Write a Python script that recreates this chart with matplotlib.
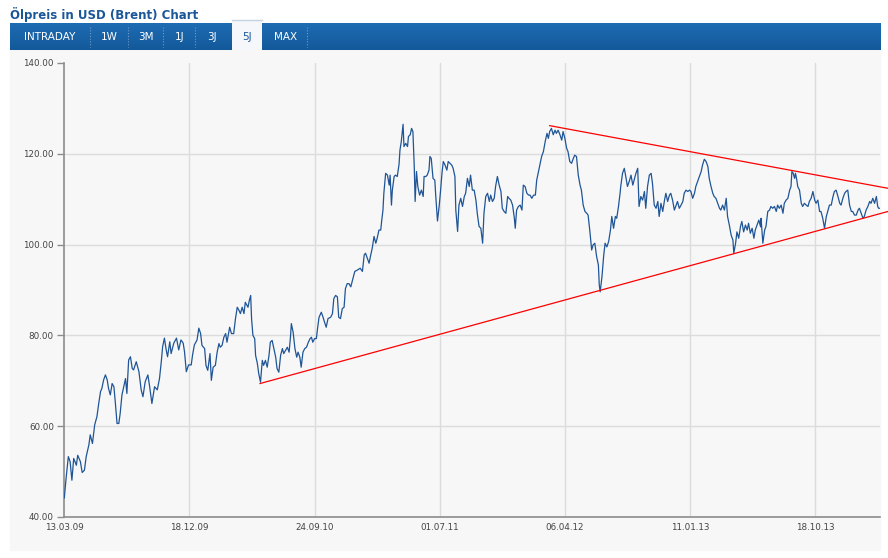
import pandas as pd
import numpy as np
import matplotlib
matplotlib.use('Agg')
import matplotlib.pyplot as plt
from matplotlib.patches import Rectangle
from matplotlib.colors import LinearSegmentedColormap

# Brent price: day offset from 13.03.09 and USD value
start = pd.Timestamp('2009-03-13')
days = [
    0, 4, 9, 13, 17, 21, 27, 30, 36, 40, 45, 49, 55, 58, 63, 68, 73, 77, 81, 84,
    88, 92, 96, 99, 103, 107, 111, 114, 118, 122, 125, 129, 133, 137, 140, 144, 148, 152, 155, 161,
    167, 172, 176, 181, 187, 191, 196, 202, 208, 213, 217, 220, 224, 228, 231, 236, 239, 245, 251, 256,
    261, 266, 269, 273, 278, 284, 287, 291, 297, 301,
    305, 308, 314, 317, 321, 326, 329, 333, 338, 342, 346, 349, 353, 357, 361, 364, 370, 374, 379, 383,
    387, 391, 394, 398, 402, 405, 411, 414, 417, 419, 422, 426, 428, 432, 435, 439, 443, 446, 450, 454,
    458, 461, 465, 469, 473, 476, 480, 484, 488, 491, 495, 499, 503, 506, 508, 512, 516, 520, 523, 527,
    530, 534, 538, 542, 546, 550, 553, 556, 560, 564, 567, 570, 575, 579, 582, 586, 590, 596, 600, 603,
    607, 611, 614, 618, 622, 626, 629, 633, 637, 641,
    650, 656, 662, 667, 671, 674, 678, 682, 685, 689, 693, 697, 700, 704, 708, 710, 713, 715, 719, 723,
    727, 729, 732, 734, 738, 741, 745, 749, 751, 754, 758, 760, 764, 768, 770, 774, 777, 780, 783, 785,
    788, 791, 795, 799, 803, 805, 809, 812, 816, 818, 821, 825, 829, 831, 835, 839, 842, 845, 848, 852,
    856, 859, 863, 867, 870, 874, 876, 880, 883, 887, 891, 895, 898, 902, 906, 909, 913, 917, 921, 924,
    928,
    932, 936, 939, 943, 947, 951, 954, 958, 962, 965, 969, 973, 977, 980, 984, 988, 992, 995, 999, 1003,
    1007, 1009, 1012, 1016, 1020, 1024, 1027, 1031, 1035, 1039, 1042, 1046, 1050, 1054, 1057, 1061, 1065, 1068, 1072, 1076,
    1080, 1083, 1086, 1090, 1094, 1098, 1101, 1105, 1109, 1113, 1116, 1120, 1124, 1127, 1131, 1135, 1139, 1142, 1146, 1150,
    1154, 1157, 1161, 1165, 1169, 1172, 1176, 1180, 1183, 1187, 1191, 1195, 1197, 1199, 1203, 1207, 1210, 1214, 1218, 1222,
    1225, 1229, 1233, 1236, 1240, 1244,
    1245, 1249, 1253, 1257, 1260, 1264, 1268, 1272, 1275, 1279, 1283, 1286, 1290, 1294, 1298, 1301, 1305, 1309, 1313, 1316,
    1320, 1324, 1328, 1331, 1335, 1339, 1343, 1346, 1350, 1354, 1357, 1361, 1365, 1369, 1372, 1376, 1380, 1384, 1387, 1391,
    1395, 1399, 1402, 1406, 1410, 1413, 1417, 1421, 1425, 1428, 1432, 1436, 1440, 1443, 1447, 1451, 1454, 1458, 1462, 1466,
    1469, 1473, 1477, 1481, 1484, 1488, 1492, 1496, 1498, 1502, 1505, 1509, 1513, 1516, 1520, 1524, 1528, 1531, 1535, 1539,
    1543, 1546, 1550, 1554, 1558,
    1559, 1563, 1567, 1570, 1574, 1578, 1581, 1585, 1589, 1593, 1596, 1600, 1604, 1608, 1611, 1615, 1619, 1623, 1626, 1628,
    1631, 1634, 1636, 1639, 1641, 1645, 1649, 1652, 1656, 1660, 1664, 1667, 1671, 1675, 1679, 1682, 1686, 1690, 1693, 1697,
    1701, 1705, 1708, 1712, 1716, 1720, 1723, 1727, 1731, 1735, 1738, 1742, 1746, 1749, 1753, 1757, 1761, 1764, 1768, 1772,
    1776, 1779, 1783, 1787, 1790, 1794, 1798, 1802, 1805, 1809, 1813, 1817, 1820, 1822, 1824,
]
price = [
    44.2, 48.5, 53.3, 52.2, 48.1, 52.9, 51.4, 53.6, 52.2, 49.8, 50.3, 53.3, 55.9, 58.1, 56.2, 60.3, 62.1, 65.0, 67.6, 68.3,
    70.2, 71.3, 70.2, 68.3, 66.9, 69.4, 68.7, 65.4, 60.6, 60.6, 62.8, 66.9, 68.7, 70.5, 67.2, 74.6, 75.3, 72.7, 72.4, 74.2,
    72.0, 68.0, 66.5, 69.8, 71.3, 68.7, 65.0, 68.7, 68.0, 70.5, 74.2, 77.5, 79.4, 76.8, 75.3, 78.6, 76.0, 78.3, 79.4, 76.8,
    79.0, 78.3, 76.4, 72.0, 73.5, 73.5, 75.7, 77.9, 79.0, 81.6,
    80.4, 77.8, 77.1, 73.4, 72.3, 76.0, 70.1, 73.0, 73.4, 76.3, 78.2, 77.4, 77.8, 79.6, 80.4, 78.5, 81.8, 80.4, 80.4, 83.7,
    86.2, 85.5, 84.8, 86.2, 84.8, 87.3, 86.2, 87.7, 88.8, 83.7, 80.0, 79.3, 75.6, 73.8, 71.6, 69.7, 74.5, 73.4, 74.5, 73.0,
    75.6, 78.5, 78.9, 77.1, 75.2, 72.7, 71.9, 75.6, 77.1, 76.0, 76.7, 77.4, 76.3, 79.6, 82.6, 80.7, 77.1, 75.2, 76.3, 75.2,
    73.0, 76.3, 77.1, 77.4, 78.5, 79.3, 79.6, 78.5, 79.3, 79.3, 81.8, 84.0, 85.1, 84.0, 83.0, 81.8, 83.7, 84.0, 84.8, 88.1,
    88.8, 88.5, 84.0, 83.7, 85.9, 86.2, 90.3, 91.4, 91.4, 90.7,
    94.1, 94.4, 94.8, 94.1, 97.7, 98.1, 97.0, 95.9, 97.4, 99.2, 101.8, 100.3, 101.4, 103.2, 103.2, 105.1, 107.6, 111.3, 115.7, 115.3,
    113.1, 115.3, 108.7, 112.0, 115.0, 115.3, 115.0, 117.7, 120.8, 122.7, 126.5, 121.6, 122.3, 121.6, 123.8, 124.2, 125.6, 124.9, 117.2, 109.5,
    116.1, 112.8, 110.9, 112.0, 110.6, 115.0, 115.0, 115.3, 116.4, 119.4, 119.0, 114.6, 114.2, 110.9, 105.2, 108.7, 112.0, 115.7, 118.3, 117.5,
    116.4, 118.3, 117.9, 117.5, 116.8, 115.0, 107.6, 102.9, 108.7, 110.2, 108.4, 110.6, 111.3, 114.6, 112.8, 115.3, 112.0, 112.0, 109.8, 106.9,
    104.0,
    103.6, 100.3, 106.9, 110.6, 111.3, 109.5, 110.9, 109.5, 110.2, 112.8, 115.0, 113.1, 111.7, 108.0, 107.3, 106.9, 110.6, 110.2, 109.8, 108.7,
    105.8, 103.6, 107.6, 108.4, 108.7, 107.6, 113.1, 112.8, 111.3, 110.9, 110.9, 110.2, 110.9, 110.9, 114.2, 116.1, 117.9, 119.4, 120.5, 122.7,
    124.5, 123.4, 124.9, 125.6, 124.2, 125.2, 124.5, 125.2, 124.2, 123.0, 124.9, 123.4, 121.2, 120.5, 118.3, 117.9, 119.0, 119.7, 119.4, 115.3,
    113.1, 112.0, 108.7, 107.3, 106.9, 106.5, 102.9, 98.8, 99.9, 100.3, 97.4, 95.5, 91.1, 89.6, 92.9, 97.7, 100.3, 99.5, 100.7, 103.2,
    106.2, 103.6, 106.2, 105.8, 108.4, 111.7,
    112.8, 115.7, 116.8, 114.6, 112.8, 113.9, 115.3, 113.1, 114.2, 115.7, 116.8, 108.4, 110.6, 109.8, 111.7, 108.0, 112.8, 115.3, 115.7, 113.5,
    108.7, 108.0, 109.5, 106.2, 109.1, 107.3, 109.8, 111.3, 109.5, 110.9, 111.3, 109.8, 107.6, 108.7, 109.5, 108.0, 108.7, 109.5, 111.3, 112.0,
    111.7, 112.0, 111.7, 110.2, 111.3, 112.8, 113.9, 115.0, 116.1, 117.5, 118.8, 118.3, 117.2, 114.6, 112.8, 111.3, 110.6, 110.2, 109.1, 108.0,
    107.6, 108.7, 107.6, 110.2, 106.2, 104.3, 102.1, 101.0, 98.1, 100.3, 102.8, 101.4, 104.0, 105.1, 102.8, 104.3, 103.2, 104.7, 102.5, 103.6,
    101.4, 103.2, 104.3, 105.4, 103.9,
    105.8, 100.3, 103.2, 104.0, 107.3, 107.6, 108.4, 108.0, 108.4, 107.3, 108.7, 108.0, 108.7, 106.9, 109.1, 109.8, 110.2, 112.0, 112.8, 116.1,
    115.7, 114.6, 115.7, 114.2, 112.8, 112.0, 109.1, 108.4, 109.1, 108.7, 108.4, 109.5, 110.2, 111.7, 109.8, 109.1, 109.8, 107.3, 107.3, 105.8,
    103.6, 106.2, 107.3, 108.7, 108.7, 110.6, 111.7, 112.0, 110.6, 109.1, 108.7, 110.2, 111.3, 111.7, 112.0, 108.7, 107.3, 107.3, 106.5, 106.5,
    107.6, 108.0, 106.9, 105.8, 106.2, 107.6, 108.4, 109.5, 109.1, 110.2, 109.1, 110.6, 108.4, 108.0, 108.0,
]

tick_dates = ['2009-03-13', '2009-12-18', '2010-09-24', '2011-07-01',
              '2012-04-06', '2013-01-11', '2013-10-18']
tick_labels = ['13.03.09', '18.12.09', '24.09.10', '01.07.11',
               '06.04.12', '11.01.13', '18.10.13']
y_ticks = [40, 60, 80, 100, 120, 140]

# trend lines (support / resistance)
support_dates = ['2010-05-25', '2014-03-30']
support_vals = [69.4, 107.3]
resist_dates = ['2012-03-03', '2014-03-30']
resist_vals = [126.2, 112.4]

tabs = ['INTRADAY', '1W', '3M', '1J', '3J', '5J', 'MAX']
tab_centers = [40, 99, 136, 170, 202, 237, 276]
tab_seps = [80, 118, 153, 185, 297]
active_tab = '5J'

W, H = 888, 558
fig = plt.figure(figsize=(W / 100, H / 100), dpi=100)
fig.patch.set_facecolor('white')


def fx(px):
    return px / W


def fy(py):
    return 1 - py / H


# grey chart panel (behind everything)
fig.patches.append(Rectangle((fx(10), fy(550)), 870 / W, 500 / H,
                             transform=fig.transFigure, color='#f7f7f7', zorder=-5))

# title
fig.text(fx(10), fy(14), 'Ölpreis in USD (Brent) Chart', fontsize=8.5,
         fontweight='bold', color='#1a5799', va='center', ha='left')

# tab bar
tab_ax = fig.add_axes([fx(10), fy(50), 870 / W, 27 / H])
grad = np.linspace(0, 1, 50).reshape(-1, 1)
cmap = LinearSegmentedColormap.from_list('bar', ['#1e6cb3', '#13599a'])
tab_ax.imshow(grad, extent=[0, 870, 27, 0], aspect='auto', cmap=cmap)
tab_ax.set_xlim(0, 870)
tab_ax.set_ylim(27, 0)
tab_ax.axis('off')
for sx in tab_seps:
    tab_ax.plot([sx, sx], [4, 24], color='#6f9bc9', lw=0.8, ls=(0, (1, 1.5)))
for name, cx in zip(tabs, tab_centers):
    if name == active_tab:
        tab_ax.add_patch(Rectangle((222, -3), 30, 30, facecolor='#f5f7fa',
                                   edgecolor='none', clip_on=False, zorder=3))
        tab_ax.plot([222, 252], [-3, -3], color='#c3d3e4', lw=1, clip_on=False, zorder=4)
        tab_ax.text(cx, 14.5, name, color='#1a5799', fontsize=7.5,
                    ha='center', va='center', zorder=5)
    else:
        tab_ax.text(cx, 14.5, name, color='white', fontsize=7.5,
                    ha='center', va='center', zorder=5)

# main chart
ax = fig.add_axes([fx(64.3), fy(517), (879.5 - 64.3) / W, (517 - 63) / H])
ax.set_facecolor('#f7f7f7')

dates = start + pd.to_timedelta(days, unit='D')
tdates = pd.to_datetime(tick_dates)
for v in y_ticks[1:-1]:
    ax.axhline(v, color='#dcdcdc', lw=1, zorder=1)
for d in tdates[1:]:
    ax.axvline(d, color='#dcdcdc', lw=1, zorder=1)

ax.plot(dates, price, color='#1f5597', lw=0.9, zorder=3)
ax.plot(pd.to_datetime(support_dates), support_vals, color='#ff0000', lw=0.9,
        clip_on=False, zorder=4)
ax.plot(pd.to_datetime(resist_dates), resist_vals, color='#ff0000', lw=0.9,
        clip_on=False, zorder=4)

ax.set_xlim(start, start + pd.Timedelta(days=1824))
ax.set_ylim(40, 140)
ax.set_yticks(y_ticks)
ax.set_yticklabels([f'{v:.2f}' for v in y_ticks])
ax.set_xticks(tdates)
ax.set_xticklabels(tick_labels)

for side in ['top', 'right']:
    ax.spines[side].set_visible(False)
for side in ['left', 'bottom']:
    ax.spines[side].set_color('#8c8c8c')
    ax.spines[side].set_linewidth(1.2)

ax.tick_params(axis='y', length=5, width=1, color='#8c8c8c', pad=2.5,
               labelsize=6.3, labelcolor='#444444')
ax.tick_params(axis='x', length=0, pad=4, labelsize=6.3, labelcolor='#444444')

fig.savefig('out.png', dpi=100)
